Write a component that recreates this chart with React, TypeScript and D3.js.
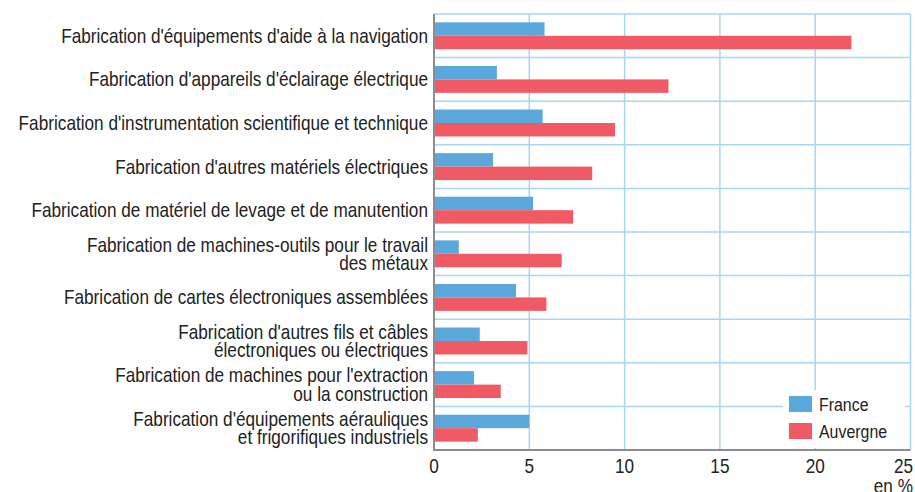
import React from "react";
import * as d3 from "d3";

// categories, one entry per bar group (lines split where the original wraps)
const categories = [
  ["Fabrication d'équipements d'aide à la navigation"],
  ["Fabrication d'appareils d'éclairage électrique"],
  ["Fabrication d'instrumentation scientifique et technique"],
  ["Fabrication d'autres matériels électriques"],
  ["Fabrication de matériel de levage et de manutention"],
  ["Fabrication de machines-outils pour le travail", "des métaux"],
  ["Fabrication de cartes électroniques assemblées"],
  ["Fabrication d'autres fils et câbles", "électroniques ou électriques"],
  ["Fabrication de machines pour l'extraction", "ou la construction"],
  ["Fabrication d'équipements aérauliques", "et frigorifiques industriels"],
];

const seriesNames = ["France", "Auvergne"];
const france = [5.8, 3.3, 5.7, 3.1, 5.2, 1.3, 4.3, 2.4, 2.1, 5.0];
const auvergne = [21.9, 12.3, 9.5, 8.3, 7.3, 6.7, 5.9, 4.9, 3.5, 2.3];
const xTicks = [0, 5, 10, 15, 20, 25];

const colors = ["#5aa8dc", "#f05a64"];
const gridColor = "#a9d5f1";
const axisColor = "#8c8c8c";
const font = "'Liberation Sans', Arial, sans-serif";
const squeeze = 0.86; // the original uses a condensed Helvetica

const W = 915;
const H = 492;
const left = 434;
const right = 910.5;
const top = 14;
const bottom = 450;

// text drawn with a horizontal squeeze to mimic a condensed face
function CText({ x, y, anchor = "start", size, children }: any) {
  return (
    <g transform={`translate(${x},${y}) scale(${squeeze},1)`}>
      <text textAnchor={anchor} dy="0.35em" fontSize={size} fill="#222">
        {children}
      </text>
    </g>
  );
}

export default function App() {
  const x = d3.scaleLinear().domain([0, 25]).range([left, right]);
  const y = d3
    .scaleBand<number>()
    .domain(d3.range(categories.length))
    .range([top, bottom])
    .padding(0);
  const inner = d3
    .scaleBand<string>()
    .domain(seriesNames)
    .range([0, y.bandwidth()])
    .paddingInner(0)
    .paddingOuter(0.62);
  const values = [france, auvergne];

  return (
    <svg
      width={W}
      height={H}
      style={{ position: "absolute", left: 0, top: 0, background: "#fff" }}
      fontFamily={font}
    >
      {/* grid */}
      {xTicks.slice(1).map((t) => (
        <line key={"v" + t} x1={x(t)} x2={x(t)} y1={top} y2={bottom} stroke={gridColor} strokeWidth={1.5} />
      ))}
      {d3.range(categories.length).map((i) => (
        <line key={"h" + i} x1={left} x2={right} y1={y(i)!} y2={y(i)!} stroke={gridColor} strokeWidth={1.5} />
      ))}

      {/* bars */}
      {values.map((vals, s) =>
        vals.map((v, i) => (
          <rect
            key={s + "-" + i}
            x={x(0)}
            y={y(i)! + inner(seriesNames[s])!}
            width={x(v) - x(0)}
            height={inner.bandwidth()}
            fill={colors[s]}
          />
        ))
      )}

      {/* category labels */}
      {categories.map((lines, i) => {
        const cy = y(i)! + y.bandwidth() / 2;
        const lh = 18.5;
        const y0 = cy - ((lines.length - 1) * lh) / 2;
        return lines.map((l, k) => (
          <CText key={i + "-" + k} x={428} y={y0 + k * lh} anchor="end" size={20}>
            {l}
          </CText>
        ));
      })}

      {/* legend */}
      <rect x={783} y={390} width={122} height={58} fill="#fff" />
      {seriesNames.map((n, s) => (
        <g key={n} transform={`translate(789,${396 + s * 27})`}>
          <rect width={23} height={16} fill={colors[s]} />
          <CText x={30} y={8.5} size={18.5}>
            {n}
          </CText>
        </g>
      ))}

      {/* axes */}
      <line x1={left} x2={left} y1={top} y2={bottom} stroke={axisColor} strokeWidth={2} />
      <line x1={left - 1} x2={right} y1={bottom} y2={bottom} stroke={axisColor} strokeWidth={2} />
      {xTicks.map((t, i) => {
        const last = i === xTicks.length - 1;
        return (
          <CText key={"t" + t} x={last ? 913 : x(t)} y={466} anchor={last ? "end" : "middle"} size={20}>
            {t}
          </CText>
        );
      })}
      <CText x={913} y={486} anchor="end" size={20}>
        en %
      </CText>
    </svg>
  );
}
